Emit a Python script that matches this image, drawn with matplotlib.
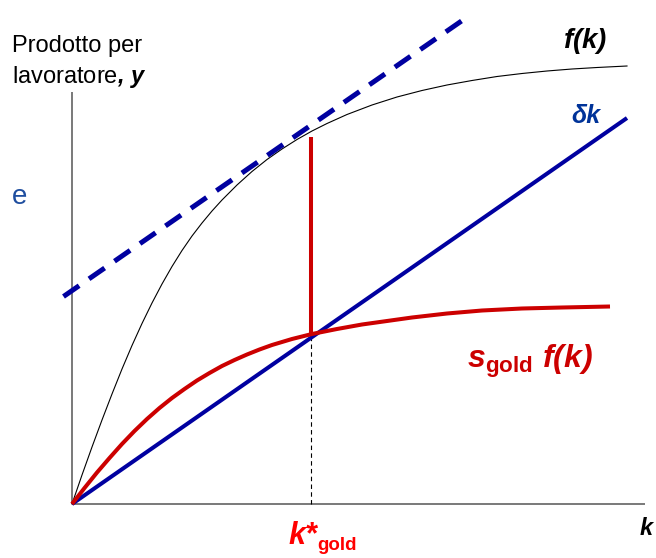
import numpy as np
import matplotlib
matplotlib.use("Agg")
import matplotlib.pyplot as plt

plt.rcParams['font.family'] = ['Liberation Sans', 'DejaVu Sans']
plt.rcParams['mathtext.fontset'] = 'custom'
plt.rcParams['mathtext.rm'] = 'Liberation Sans'
plt.rcParams['mathtext.bf'] = 'Liberation Sans:bold:italic'
plt.rcParams['mathtext.sf'] = 'Liberation Sans:bold'
plt.rcParams['mathtext.it'] = 'Liberation Sans:italic'

# f(k)
k_f = [0, 0.2, 0.4, 0.6, 0.8, 1.0, 1.2, 1.4, 1.6, 1.8, 2.0, 2.2, 2.4, 2.6, 2.8, 3.0,
       3.3, 3.6, 3.9, 4.2, 4.5, 4.8, 5.1, 5.5, 6.0, 6.5, 7.0, 7.5, 8.0, 8.5, 9.0,
       9.5, 10.0, 10.5, 11.1]
y_f = [0, 0.58, 1.14, 1.68, 2.2, 2.7, 3.17, 3.61, 4.02, 4.4, 4.75, 5.07, 5.36, 5.62,
       5.86, 6.08, 6.38, 6.65, 6.89, 7.1, 7.29, 7.46, 7.61, 7.79, 7.98, 8.14, 8.27,
       8.38, 8.47, 8.55, 8.61, 8.66, 8.7, 8.73, 8.76]

# s_gold f(k)
k_sf = [0, 0.25, 0.5, 0.75, 1.0, 1.25, 1.5, 1.75, 2.0, 2.25, 2.5, 2.75, 3.0, 3.25,
        3.5, 3.75, 4.0, 4.4, 4.8, 5.3, 5.8, 6.3, 6.8, 7.5, 8.2, 9.0, 9.8, 10.76]
y_sf = [0, 0.32, 0.63, 0.92, 1.2, 1.46, 1.7, 1.92, 2.12, 2.3, 2.47, 2.62, 2.76, 2.88,
        2.99, 3.09, 3.18, 3.3, 3.4, 3.5, 3.59, 3.66, 3.73, 3.81, 3.87, 3.91, 3.93, 3.95]

# delta k
k_dep = [0, 11.1]
y_dep = [0, 7.72]

# tangent (dashed)
k_tan = [-0.17, 7.92]
y_tan = [4.15, 9.75]

k_gold = 4.78
y_gold_low = 3.4
y_gold_high = 7.34

k_axis_end = 11.46
y_axis_end = 8.24

fig = plt.figure(figsize=(6.56, 5.58), dpi=100)
ax = fig.add_axes([0, 0, 1, 1])
ax.set_xlim(-1.44, 11.68)
ax.set_ylim(-1.08, 10.08)
ax.axis('off')

blue = '#0000A0'
red = '#CC0000'

# assi
ax.plot([0, k_axis_end], [0, 0], color='#555555', lw=1.1, solid_capstyle='butt')
ax.plot([0, 0], [0, y_axis_end], color='#555555', lw=1.1, solid_capstyle='butt')

# curve
ax.plot(k_f, y_f, color='black', lw=0.8)
ax.plot(k_tan, y_tan, color=blue, lw=3.6, dashes=(3.8, 2.4))
ax.plot([k_gold, k_gold], [0, y_gold_low], color='black', lw=0.8, dashes=(4, 3))
ax.plot([k_gold, k_gold], [y_gold_low, y_gold_high], color=red, lw=2.9, solid_capstyle='butt')
ax.plot(k_dep, y_dep, color=blue, lw=2.9, solid_capstyle='butt')
ax.plot(k_sf, y_sf, color=red, lw=2.9, solid_capstyle='butt')

# testi
ax.text(-1.2, 9.04, 'Prodotto per', fontsize=17, va='baseline', ha='left')
ax.text(-1.2, 8.42, r'lavoratore$\mathbf{,}$ $\mathbf{y}$', fontsize=17, va='baseline', ha='left')
ax.text(10.26, 9.26, r'$\mathbf{f(k)}$', fontsize=20, va='center', ha='center')
ax.text(10.28, 7.76, 'δk', fontsize=18, fontweight='bold', fontstyle='italic',
        color='#003399', va='center', ha='center')
ax.text(-1.04, 6.14, 'e', fontsize=20, color='#1F4E9F', va='center', ha='center')
ax.text(7.9, 2.72, r'$\mathbf{s}_{\mathsf{gold}}\ \mathbf{f(k)}$', fontsize=23,
        color=red, va='baseline', ha='left')

kstar = ax.text(4.32, -0.8, 'k*', fontsize=22, fontweight='bold', fontstyle='italic',
                color='#FF0000', va='baseline', ha='left')
ax.annotate('gold', xy=(1, 0), xycoords=kstar, xytext=(0, 1), textcoords='offset points',
            fontsize=13.5, fontweight='bold', color='#FF0000', va='baseline', ha='left')

ax.text(11.36, -0.62, 'k', fontsize=17, fontweight='bold', fontstyle='italic',
        va='baseline', ha='left')

fig.savefig('out.png', dpi=100)
